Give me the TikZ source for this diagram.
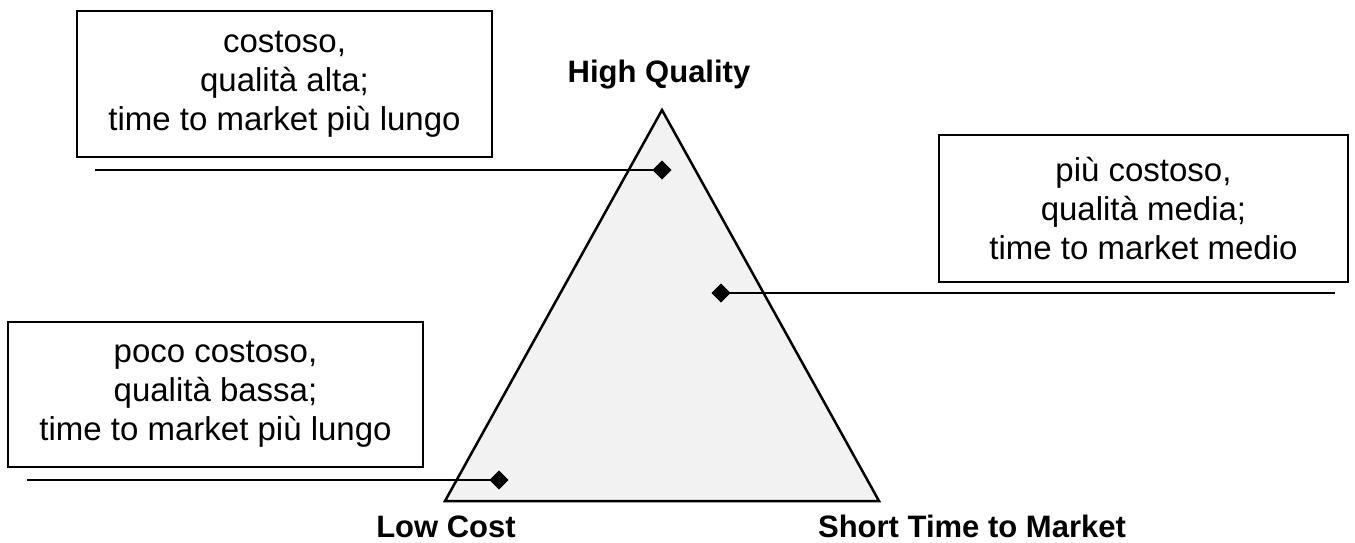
\documentclass[tikz,border=0pt]{standalone}
\usepackage{fontspec}
\setmainfont{Liberation Sans}
\usetikzlibrary{shapes.geometric}
\tikzset{
  infobox/.style={draw=black, line width=2pt, fill=white, align=center, inner sep=0pt,
    font=\fontsize{33}{39}\selectfont},
  corner/.style={font=\fontsize{31}{36}\selectfont\bfseries, anchor=base, inner sep=0pt},
  marker/.style={diamond, fill=black, draw=none, minimum width=19pt, minimum height=19pt, inner sep=0pt},
  leader/.style={line width=2pt},
  tri/.style={draw=black, line width=2.5pt, fill=black!5, line join=miter}
}
\begin{document}
\begin{tikzpicture}[x=1pt, y=-1pt]
\useasboundingbox (0,0) rectangle (1355,543);
% triangle
\coordinate (apex) at (662,110);
\coordinate (bl) at (445,501);
\coordinate (br) at (879,501);
\draw[tri] (apex) -- (bl) -- (br) -- cycle;
% corner labels
\node[corner] (hq) at (659,82) {High Quality};
\node[corner] (lc) at (446,537) {Low Cost};
\node[corner] (st) at (972,537) {Short Time to Market};
% boxes
\node[infobox, minimum width=415pt, minimum height=146pt] (b1) at (284.5,84) {costoso,\\ qualità alta;\\ time to market più lungo};
\node[infobox, minimum width=409pt, minimum height=147pt] (b2) at (1143.5,208.5) {più costoso,\\ qualità media;\\ time to market medio};
\node[infobox, minimum width=415pt, minimum height=145pt] (b3) at (215.5,394.5) {poco costoso,\\ qualità bassa;\\ time to market più lungo};
% leaders and markers
\node[marker] (d1) at (662,170) {};
\node[marker] (d2) at (721,293) {};
\node[marker] (d3) at (499,480) {};
\coordinate (e1) at (95,170);
\coordinate (e2) at (1335,293);
\coordinate (e3) at (27,480);
\draw[leader] (e1) -- (d1.center);
\draw[leader] (d2.center) -- (e2);
\draw[leader] (e3) -- (d3.center);
\node[marker] at (d1) {};
\node[marker] at (d2) {};
\node[marker] at (d3) {};
\end{tikzpicture}
\end{document}
